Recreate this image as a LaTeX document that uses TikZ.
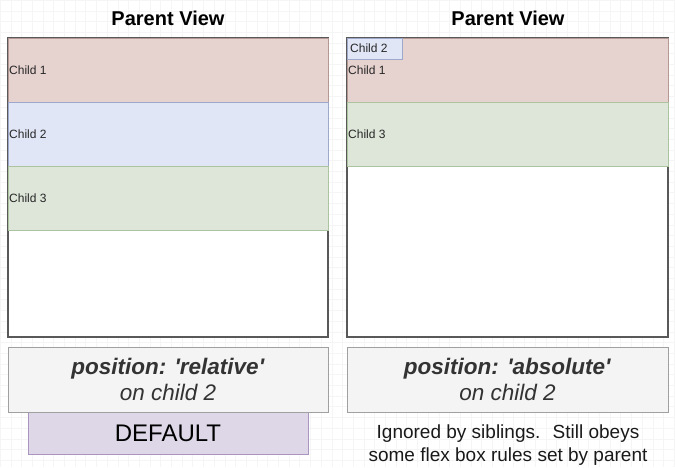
\documentclass[tikz,border=0pt]{standalone}
\usepackage{fontspec}
\setmainfont{Liberation Sans}
\usetikzlibrary{positioning}
\definecolor{redfill}{HTML}{E6D2CF}
\definecolor{redline}{HTML}{B39893}
\definecolor{bluefill}{HTML}{E0E6F6}
\definecolor{blueline}{HTML}{9DA8CB}
\definecolor{greenfill}{HTML}{DDE6D8}
\definecolor{greenline}{HTML}{ABC49F}
\definecolor{notefill}{HTML}{F4F4F4}
\definecolor{noteline}{HTML}{A0A0A0}
\definecolor{purplefill}{HTML}{DDD7E7}
\definecolor{purpleline}{HTML}{A995C0}
\definecolor{inkgray}{HTML}{333333}
\begin{document}
\begin{tikzpicture}[x=1pt,y=-1pt,
    box/.style={rectangle, inner sep=0pt, outer sep=0pt, line width=0.8pt, anchor=north west},
    childtext/.style={inner sep=1pt, anchor=west, text=black!85, font=\fontsize{12}{14}\selectfont},
    title/.style={font=\bfseries\fontsize{20}{24}\selectfont},
    note/.style={align=center, text=inkgray, font=\fontsize{22.5}{26}\selectfont}
]
\useasboundingbox (0,0) rectangle (675,467);
\draw[black!4, step=10.7pt] (0,0) grid (675,467);

% left parent
\node[title] (titleA) at (168,18) {Parent View};
\node[box, draw=black!65, line width=1.1pt, fill=white, minimum width=320, minimum height=299] (parentA) at (8,38) {};
\node[box, fill=redfill, draw=redline, minimum width=320, minimum height=64] (oneA) at (8,38) {};
\node[box, fill=bluefill, draw=blueline, minimum width=320, minimum height=64] (twoA) at (8,102) {};
\node[box, fill=greenfill, draw=greenline, minimum width=320, minimum height=64] (threeA) at (8,166) {};
\node[childtext] at (oneA.west) {Child 1};
\node[childtext] at (twoA.west) {Child 2};
\node[childtext] at (threeA.west) {Child 3};

% right parent
\node[title] (titleB) at (508,18) {Parent View};
\node[box, draw=black!65, line width=1.1pt, fill=white, minimum width=321, minimum height=299] (parentB) at (347,38) {};
\node[box, fill=redfill, draw=redline, minimum width=321, minimum height=64] (oneB) at (347,38) {};
\node[box, fill=greenfill, draw=greenline, minimum width=321, minimum height=64] (threeB) at (347,102) {};
\node[box, fill=bluefill, draw=blueline, minimum width=55, minimum height=21] (twoB) at (347,38) {};
\node[childtext] at (oneB.west) {Child 1};
\node[childtext] at (threeB.west) {Child 3};
\node[childtext] at ([xshift=2pt]twoB.west) {Child 2};

% captions
\node[box, fill=purplefill, draw=purpleline, minimum width=280, minimum height=42] (defbox) at (28,412) {};
\node[font=\fontsize{24}{28}\selectfont] (deflabel) at (defbox.center) {DEFAULT};
\node[box, fill=notefill, draw=noteline, minimum width=320, minimum height=65] (noteA) at (8,347) {};
\node[box, fill=notefill, draw=noteline, minimum width=321, minimum height=65] (noteB) at (347,347) {};
\node[note] (noteAtext) at (noteA.center) {\textbf{\textit{position: \textquotesingle relative\textquotesingle}}\\\textit{on child 2}};
\node[note] (noteBtext) at (noteB.center) {\textbf{\textit{position: \textquotesingle absolute\textquotesingle}}\\\textit{on child 2}};
\node[align=center, text=black!90, font=\fontsize{19}{23}\selectfont] (rule) at (508,445.5) {Ignored by siblings.~ Still obeys\\some flex box rules set by parent};
\end{tikzpicture}
\end{document}
